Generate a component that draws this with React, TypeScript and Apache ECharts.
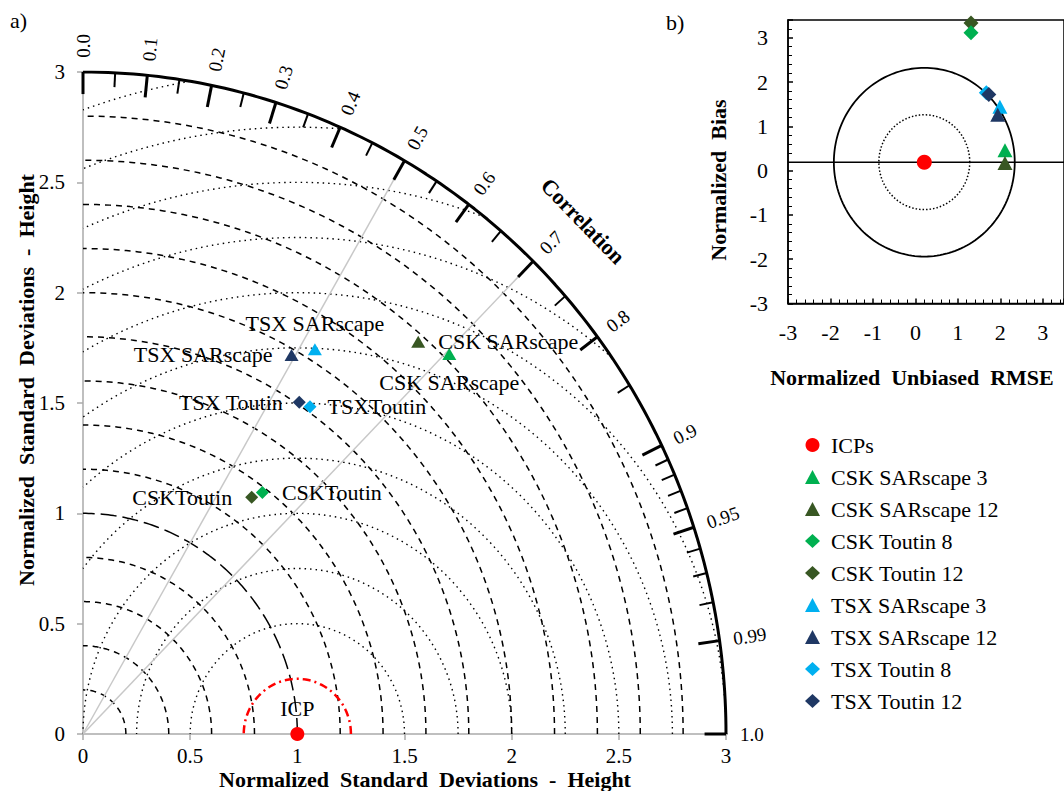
import React, { useEffect, useRef } from "react";
import * as echarts from "echarts";

const FONT = "'Liberation Serif', 'Times New Roman', Times, serif";

// ---------- series identity ----------
const methodNames = [
  "ICPs",
  "CSK SARscape 3",
  "CSK SARscape 12",
  "CSK Toutin 8",
  "CSK Toutin 12",
  "TSX SARscape 3",
  "TSX SARscape 12",
  "TSX Toutin 8",
  "TSX Toutin 12",
];
const methodColors = ["#FF0000", "#00B050", "#385723", "#00B050", "#385723", "#00B0F0", "#1F3864", "#00B0F0", "#1F3864"];
const methodSymbols = ["circle", "triangle", "triangle", "diamond", "diamond", "triangle", "triangle", "diamond", "diamond"];

// ---------- a) Taylor diagram (x / y components of normalized std) ----------
const taylorX = [1.0, 1.709, 1.564, 0.837, 0.787, 1.082, 0.973, 1.059, 1.009];
const taylorY = [0.0, 1.722, 1.778, 1.094, 1.073, 1.744, 1.718, 1.483, 1.503];
const taylorPointLabels = ["ICP", "CSK SARscape", "CSK SARscape", "CSKToutin", "CSKToutin", "TSX SARscape", "TSX SARscape", "TSXToutin", "TSX Toutin"];
const taylorLabelPos = ["top", "bottom", "right", "right", "left", "top", "left", "right", "left"];
const taylorLabelDist = [8, 11, 13, 13, 13, 9, 12, 11, 10];

const stdAxisMax = 3;
const stdArcRadii = [0.2, 0.4, 0.6, 0.8, 1.2, 1.4, 1.6, 1.8, 2.0, 2.2, 2.4, 2.6, 2.8];
const refStdArcRadius = 1.0;
const rmsdArcRadii = [0.5, 0.75, 1.0, 1.25, 1.5, 1.75, 2.0, 2.25, 2.5, 2.75, 3.0];
const icpRmsdArcRadius = 0.25;
const corrMajorTicks = [0, 0.1, 0.2, 0.3, 0.4, 0.5, 0.6, 0.7, 0.8, 0.9, 0.95, 0.99, 1.0];
const corrMinorTicks = [0.05, 0.15, 0.25, 0.35, 0.45, 0.55, 0.65, 0.75, 0.85, 0.91, 0.92, 0.93, 0.94, 0.96, 0.97, 0.98];
const corrRays = [0.5, 0.7];

// ---------- b) Target diagram ----------
const targetRmse = [0.21, 2.11, 2.11, 1.31, 1.31, 1.99, 1.94, 1.67, 1.73];
const targetBias = [0.19, 0.46, 0.17, 3.11, 3.33, 1.44, 1.26, 1.76, 1.72];
const targetCircleRadii = [1.07, 2.13];
const targetBiasLine = 0.19;

function arc(cx: number, cy: number, r: number, a0: number, a1: number, n = 120) {
  const pts: number[][] = [];
  for (let i = 0; i <= n; i++) {
    const a = a0 + ((a1 - a0) * i) / n;
    pts.push([cx + r * Math.cos(a), cy + r * Math.sin(a)]);
  }
  return pts;
}
const clamp = (v: number) => Math.max(-1, Math.min(1, v));

function buildOption() {
  const series: any[] = [];
  const line = (gi: number, data: number[][], lineStyle: any, z = 1, clip = true) => ({
    type: "line",
    xAxisIndex: gi,
    yAxisIndex: gi,
    data,
    symbol: "none",
    silent: true,
    lineStyle,
    z,
    clip,
    animation: false,
  });

  // std arcs
  stdArcRadii.forEach((r) => series.push(line(0, arc(0, 0, r, 0, Math.PI / 2), { color: "#000", width: 1.5, type: [6, 5] })));
  series.push(line(0, arc(0, 0, refStdArcRadius, 0, Math.PI / 2), { color: "#000", width: 1.5, type: [16, 6] }));

  // RMSD arcs centred on the reference
  const c = taylorX[0];
  rmsdArcRadii.forEach((r) => {
    const a0 = Math.acos(clamp((stdAxisMax * stdAxisMax - c * c - r * r) / (2 * r * c)));
    const a1 = Math.acos(clamp(-c / r));
    series.push(line(0, arc(c, 0, r, a0, a1), { color: "#000", width: 1.4, type: [1.5, 4] }));
  });
  series.push(line(0, arc(c, 0, icpRmsdArcRadius, 0, Math.PI, 60), { color: "#FF0000", width: 2.5, type: [8, 4, 2, 4] }, 1));

  // correlation rays
  corrRays.forEach((cr) =>
    series.push(line(0, [[0, 0], [stdAxisMax * cr, stdAxisMax * Math.sqrt(1 - cr * cr)]], { color: "#C8C8C8", width: 1.5 }))
  );
  // outer arc
  series.push(line(0, arc(0, 0, stdAxisMax, 0, Math.PI / 2), { color: "#000", width: 3 }, 2));
  // axis extension to correlation 1.0 label
  series.push(line(0, [[stdAxisMax, 0], [stdAxisMax * 1.067, 0]], { color: "#AAAAAA", width: 1.5 }, 1, false));

  // correlation ticks
  const tickData = [...corrMajorTicks.map((t) => [t, 1]), ...corrMinorTicks.map((t) => [t, 0])];
  series.push({
    type: "custom",
    xAxisIndex: 0,
    yAxisIndex: 0,
    silent: true,
    z: 3,
    data: tickData,
    renderItem: (_p: any, api: any) => {
      const cc = api.value(0);
      const major = api.value(1) > 0.5;
      const th = Math.acos(cc);
      const L = major ? 0.1 : 0.065;
      const p0 = api.coord([stdAxisMax * Math.cos(th), stdAxisMax * Math.sin(th)]);
      const p1 = api.coord([(stdAxisMax - L) * Math.cos(th), (stdAxisMax - L) * Math.sin(th)]);
      return {
        type: "line",
        shape: { x1: p0[0], y1: p0[1], x2: p1[0], y2: p1[1] },
        style: { stroke: "#000", lineWidth: major ? 3 : 2 },
      };
    },
  });
  // correlation tick labels
  series.push({
    type: "custom",
    xAxisIndex: 0,
    yAxisIndex: 0,
    silent: true,
    z: 3,
    data: corrMajorTicks.map((t) => [t, 0]),
    renderItem: (_p: any, api: any) => {
      const cc = api.value(0);
      const th = Math.acos(cc);
      const rr = stdAxisMax + 0.065;
      const p = api.coord([rr * Math.cos(th), rr * Math.sin(th)]);
      const o = api.coord([0, 0]);
      const ang = Math.atan2(o[1] - p[1], p[0] - o[0]);
      const txt = Math.round(cc * 100) % 10 === 0 ? cc.toFixed(1) : cc.toFixed(2);
      return {
        type: "text",
        x: p[0],
        y: p[1],
        rotation: ang,
        style: { text: txt, fontFamily: FONT, fontSize: 19, fill: "#000", align: "left", verticalAlign: "middle" },
      };
    },
  });

  // points: Taylor
  methodNames.forEach((name, i) => {
    const sym = methodSymbols[i];
    series.push({
      type: "scatter",
      name,
      xAxisIndex: 0,
      yAxisIndex: 0,
      symbol: sym,
      symbolSize: sym === "triangle" ? [14, 12] : sym === "diamond" ? [13, 13] : 14,
      itemStyle: { color: methodColors[i], opacity: 1 },
      data: [[taylorX[i], taylorY[i]]],
      z: 5,
      label: {
        show: true,
        formatter: taylorPointLabels[i],
        position: taylorLabelPos[i],
        distance: taylorLabelDist[i],
        fontFamily: FONT,
        fontSize: 22,
        color: "#000",
        opacity: 1,
      },
    });
  });

  // Target diagram reference shapes
  series.push(line(1, [[-3, targetBiasLine], [3.5, targetBiasLine]], { color: "#000", width: 1.5 }));
  series.push(line(1, arc(targetRmse[0], targetBias[0], targetCircleRadii[0], 0, Math.PI * 2, 180), { color: "#000", width: 1.5, type: [1.5, 2] }));
  series.push(line(1, arc(targetRmse[0], targetBias[0], targetCircleRadii[1], 0, Math.PI * 2, 180), { color: "#000", width: 1.8 }));

  methodNames.forEach((name, i) => {
    const sym = methodSymbols[i];
    series.push({
      type: "scatter",
      name,
      xAxisIndex: 1,
      yAxisIndex: 1,
      symbol: sym,
      symbolSize: sym === "triangle" ? [15, 14] : sym === "diamond" ? [15, 15] : 15,
      itemStyle: { color: methodColors[i], opacity: 1 },
      data: [[targetRmse[i], targetBias[i]]],
      z: name === "CSK Toutin 8" ? 6 : 5,
    });
  });

  const grayAxis = { color: "#AAAAAA", width: 1.5 };
  const blackAxis = { color: "#000", width: 1.5 };
  const labelBase = { fontFamily: FONT, fontSize: 21, color: "#000" };

  return {
    animation: false,
    textStyle: { fontFamily: FONT },
    grid: [
      { left: 83, top: 72, width: 643, height: 662 },
      { left: 788, top: 20, width: 285, height: 283.5, show: true, borderColor: "#000", borderWidth: 1.5, backgroundColor: "transparent" },
    ],
    xAxis: [
      {
        gridIndex: 0,
        type: "value",
        min: 0,
        max: stdAxisMax,
        interval: 0.5,
        axisLine: { show: true, onZero: false, lineStyle: grayAxis },
        axisTick: { show: true, length: 6, lineStyle: grayAxis },
        axisLabel: { ...labelBase, margin: 13, lineHeight: 17 },
        splitLine: { show: false },
      },
      {
        gridIndex: 1,
        type: "value",
        min: -3,
        max: 3.5,
        interval: 1,
        axisLine: { show: true, onZero: false, lineStyle: blackAxis },
        axisTick: { show: true, inside: true, length: 5, lineStyle: blackAxis },
        minorTick: { show: true, splitNumber: 5, length: 4, lineStyle: { color: "#000", width: 1 } },
        axisLabel: { ...labelBase, fontSize: 22, margin: 18, showMaxLabel: false },
        splitLine: { show: false },
      },
    ],
    yAxis: [
      {
        gridIndex: 0,
        type: "value",
        min: 0,
        max: stdAxisMax,
        interval: 0.5,
        axisLine: { show: true, onZero: false, lineStyle: grayAxis },
        axisTick: { show: true, length: 6, lineStyle: grayAxis },
        axisLabel: { ...labelBase, margin: 18 },
        splitLine: { show: false },
      },
      {
        gridIndex: 1,
        type: "value",
        min: -3,
        max: 3.4,
        interval: 1,
        axisLine: { show: true, onZero: false, lineStyle: blackAxis },
        axisTick: { show: true, inside: true, length: 5, lineStyle: blackAxis },
        minorTick: { show: true, splitNumber: 5, length: 4, lineStyle: { color: "#000", width: 1 } },
        axisLabel: { ...labelBase, fontSize: 22, margin: 20, showMaxLabel: false },
        splitLine: { show: false },
      },
    ],
    legend: {
      data: methodNames,
      orient: "vertical",
      left: 800,
      top: 429,
      itemWidth: 15,
      itemHeight: 14,
      itemGap: 10,
      selectedMode: false,
      textStyle: { fontFamily: FONT, fontSize: 22, color: "#000", lineHeight: 22, padding: [0, 0, 0, 6] },
    },
    graphic: [
      { type: "text", x: 10, y: 20, style: { text: "a)", fontFamily: FONT, fontSize: 22, fill: "#000", align: "left", verticalAlign: "middle" } },
      { type: "text", x: 666, y: 22, style: { text: "b)", fontFamily: FONT, fontSize: 22, fill: "#000", align: "left", verticalAlign: "middle" } },
      {
        type: "text",
        x: 425,
        y: 779,
        style: { text: "Normalized  Standard  Deviations  -  Height", fontFamily: FONT, fontSize: 22, lineHeight: 20, fontWeight: "bold", fill: "#000", align: "center", verticalAlign: "middle" },
      },
      {
        type: "text",
        x: 26,
        y: 380,
        rotation: Math.PI / 2,
        style: { text: "Normalized  Standard  Deviations  -  Height", fontFamily: FONT, fontSize: 22, fontWeight: "bold", fill: "#000", align: "center", verticalAlign: "middle" },
      },
      {
        type: "text",
        x: 583,
        y: 221,
        rotation: -0.8,
        style: { text: "Correlation", fontFamily: FONT, fontSize: 22, fontWeight: "bold", fill: "#000", align: "center", verticalAlign: "middle" },
      },
      {
        type: "text",
        x: 718,
        y: 180,
        rotation: Math.PI / 2,
        style: { text: "Normalized  Bias", fontFamily: FONT, fontSize: 22, fontWeight: "bold", fill: "#000", align: "center", verticalAlign: "middle" },
      },
      {
        type: "text",
        x: 912,
        y: 377,
        style: { text: "Normalized  Unbiased  RMSE", fontFamily: FONT, fontSize: 22, fontWeight: "bold", fill: "#000", align: "center", verticalAlign: "middle" },
      },
    ],
    series,
  };
}

export default function App() {
  const ref = useRef<HTMLDivElement>(null);
  useEffect(() => {
    if (!ref.current) return;
    const chart = echarts.init(ref.current, undefined, { renderer: "svg" });
    chart.setOption(buildOption() as any);
    return () => chart.dispose();
  }, []);
  return (
    <div
      ref={ref}
      style={{ position: "absolute", left: 0, top: 0, width: 1064, height: 791, background: "#fff" }}
    />
  );
}
